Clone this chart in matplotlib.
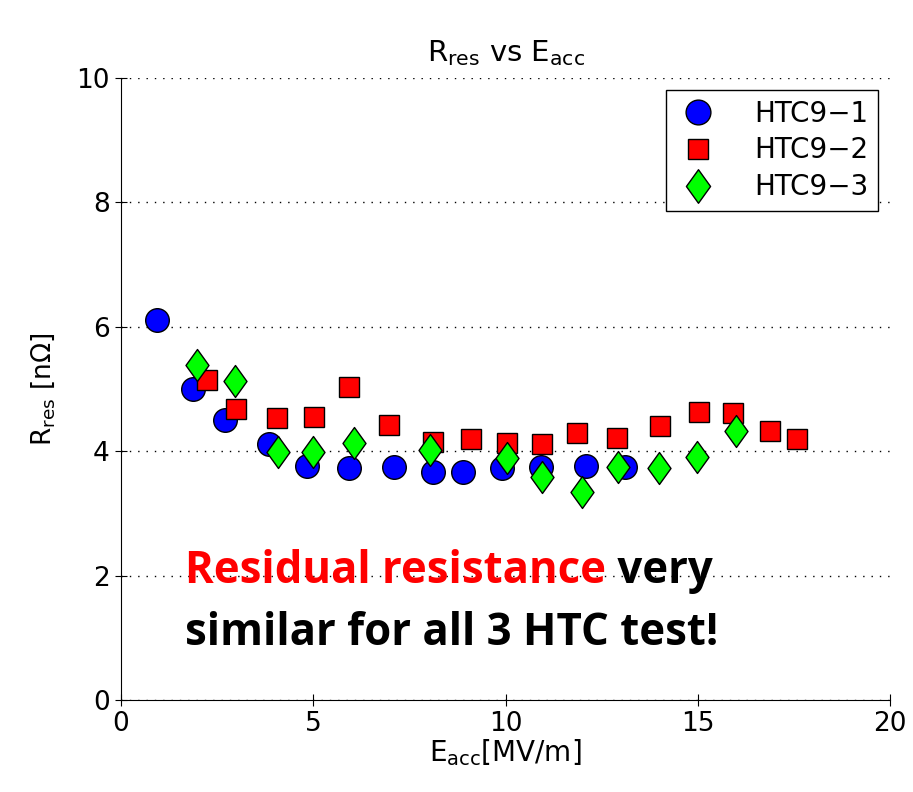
import matplotlib
matplotlib.use("Agg")
import matplotlib.pyplot as plt
from matplotlib.path import Path

# HTC9-1
e1 = [0.94, 1.87, 2.70, 3.85, 4.84, 5.93, 7.10, 8.11, 8.89, 9.91, 10.92, 12.09, 13.10]
r1 = [6.11, 5.00, 4.50, 4.12, 3.76, 3.73, 3.75, 3.67, 3.67, 3.73, 3.75, 3.76, 3.74]
# HTC9-2
e2 = [2.24, 2.99, 4.06, 5.02, 5.93, 6.97, 8.11, 9.10, 10.04, 10.95, 11.86, 12.90,
      14.02, 15.03, 15.92, 16.88, 17.58]
r2 = [5.14, 4.68, 4.53, 4.55, 5.03, 4.42, 4.15, 4.20, 4.13, 4.12, 4.30, 4.21,
      4.40, 4.63, 4.61, 4.32, 4.20]
# HTC9-3
e3 = [1.98, 2.96, 4.08, 4.99, 6.06, 8.04, 10.04, 10.95, 11.99, 12.93, 13.99, 14.98, 15.99]
r3 = [5.39, 5.13, 3.99, 3.99, 4.13, 4.02, 3.89, 3.59, 3.34, 3.75, 3.73, 3.91, 4.33]

x_ticks = [0, 5, 10, 15, 20]
y_ticks = [0, 2, 4, 6, 8, 10]

plt.rcParams['font.family'] = ['DejaVu Sans']
plt.rcParams['mathtext.default'] = 'regular'

# diamond a bit wider than matplotlib's thin 'd'
diamond = Path([(0, 1), (0.72, 0), (0, -1), (-0.72, 0), (0, 1)],
               [Path.MOVETO, Path.LINETO, Path.LINETO, Path.LINETO, Path.CLOSEPOLY])

fig = plt.figure(figsize=(9.13, 7.92), dpi=100)
ax = fig.add_axes([0.1325, 0.116, 0.8425, 0.7855])

ax.plot(e1, r1, 'o', ms=17, mfc='#0000ff', mec='black', mew=1, label='HTC9\u22121', zorder=3)
ax.plot(e2, r2, 's', ms=14, mfc='#ff0000', mec='black', mew=1, label='HTC9\u22122', zorder=3)
ax.plot(e3, r3, marker=diamond, ls='none', ms=23, mfc='#00ff00', mec='black', mew=1,
        label='HTC9\u22123', zorder=3)

ax.set_xlim(0, 20)
ax.set_ylim(0, 10)
ax.set_xticks(x_ticks)
ax.set_yticks(y_ticks)
ax.tick_params(direction='inout', length=8, labelsize=19, pad=4)
ax.spines['top'].set_visible(False)
ax.spines['right'].set_visible(False)
ax.yaxis.grid(True, linestyle=(0, (1, 5)), color='black', linewidth=1)
ax.set_axisbelow(True)

ax.set_title(r'R$_{res}$ vs E$_{acc}$', fontsize=21, pad=12)
ax.set_xlabel(r'E$_{acc}$[MV/m]', fontsize=20, labelpad=0)
ax.set_ylabel(r'R$_{res}$ [n$\Omega$]', fontsize=19, labelpad=14)

leg = ax.legend(loc='upper right', bbox_to_anchor=(0.984, 0.981), borderaxespad=0,
                fontsize=20, frameon=True, fancybox=False, edgecolor='black',
                framealpha=1, handlelength=1.6, handletextpad=1.2, borderpad=0.35,
                labelspacing=0.32, markerscale=1.05)
leg.get_frame().set_linewidth(1)

font_note = ['Open Sans', 'DejaVu Sans']
t1 = ax.text(1.67, 1.88, 'Residual resistance', color='#ff0000', fontsize=31.5,
             fontweight='bold', family=font_note)
ax.annotate(' very', xy=(1, 0), xycoords=t1, va='bottom', ha='left', fontsize=31.5,
            fontweight='bold', family=font_note, color='black')
ax.text(1.67, 0.88, 'similar for all 3 HTC test!', color='black', fontsize=31.5,
        fontweight='bold', family=font_note)

fig.savefig('out.png', dpi=100)
